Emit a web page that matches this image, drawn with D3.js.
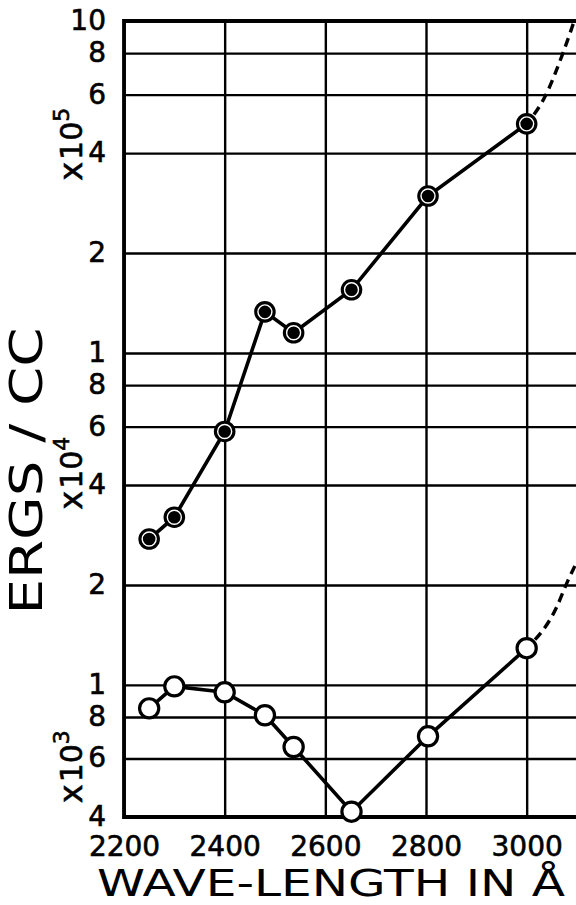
<!DOCTYPE html>
<html>
<head>
<meta charset="utf-8">
<script src="https://cdn.jsdelivr.net/npm/d3@7"></script>
<style>
  body { margin: 0; background: #fff; }
  svg { display: block; }
</style>
</head>
<body>
<svg id="chart"></svg>
<script>
/**
 * wave-lengths of the measured points (in angstrom)
 */
let waveLengths = [2250, 2300, 2400, 2480, 2537, 2652, 2804, 3000];

/**
 * upper curve (black dots) and lower curve (open dots), ergs / cc
 */
let filledValues = [2.75e4, 3.2e4, 5.8e4, 1.33e5, 1.15e5, 1.55e5, 2.97e5, 4.9e5];
let openValues = [8.5e3, 9.9e3, 9.5e3, 8.1e3, 6.5e3, 4.15e3, 7.0e3, 1.29e4];

/**
 * dashed extrapolation of each curve past 3000
 */
let filledDashX = [3000, 3036, 3072, 3100];
let filledDashY = [4.9e5, 5.9e5, 8.0e5, 1.06e6];
let openDashX = [3000, 3060, 3080, 3100];
let openDashY = [1.29e4, 1.72e4, 2.03e4, 2.35e4];

/**
 * ticks and their labels
 */
let xTicks = [2200, 2400, 2600, 2800, 3000];
let yTicks = [1e6, 8e5, 6e5, 4e5, 2e5, 1e5, 8e4, 6e4, 4e4, 2e4, 1e4, 8e3, 6e3, 4e3];
let yTickLabels = ["10", "8", "6", "4", "2", "1", "8", "6", "4", "2", "1", "8", "6", "4"];
let decadeExponents = ["5", "4", "3"];
let decadeAnchors = [3.3e5, 3.37e4, 4.4e3];

/**
 * margins and size
 */
let margin = { top: 21, right: -1, bottom: 88, left: 124 },
    W = 576,
    H = 905,
    width = W - margin.left - margin.right,
    height = H - margin.top - margin.bottom;

let font = "'DejaVu Sans', sans-serif";

let x = d3.scaleLinear().domain([2200, 3100]).range([0, width]),
    y = d3.scaleLog().domain([4e3, 1e6]).range([height, 0]);

let svg = d3.select("#chart")
    .attr("width", W)
    .attr("height", H)
    .style("background", "#fff");

let chart = svg.append("g")
    .attr("transform", "translate(" + margin.left + "," + margin.top + ")");

chart.append("clipPath").attr("id", "plot-clip")
    .append("rect").attr("x", 0).attr("y", 0).attr("width", width).attr("height", height);

// y grid + labels
let yAxis = d3.axisLeft(y)
    .tickValues(yTicks)
    .tickFormat(function (d, i) { return yTickLabels[i]; })
    .tickSize(-width)
    .tickPadding(18);
let gy = chart.append("g").call(yAxis);
gy.select(".domain").remove();
gy.attr("font-size", 28).attr("font-family", font);
gy.selectAll(".tick line").attr("stroke", "#000").attr("stroke-width", 2.4);
gy.selectAll(".tick text").attr("fill", "#000").attr("dy", "0.3em")
    .attr("stroke", "#000").attr("stroke-width", 0.6);

// x grid + labels
let xAxis = d3.axisBottom(x)
    .tickValues(xTicks)
    .tickFormat(d3.format("d"))
    .tickSize(-height)
    .tickPadding(19);
let gx = chart.append("g").attr("transform", "translate(0," + height + ")").call(xAxis);
gx.select(".domain").remove();
gx.attr("font-size", 28).attr("font-family", font);
gx.selectAll(".tick line").attr("stroke", "#000").attr("stroke-width", 2.4);
gx.selectAll(".tick text").attr("fill", "#000")
    .attr("stroke", "#000").attr("stroke-width", 0.6);

// frame: left, top, bottom
chart.append("path")
    .attr("d", "M" + width + ",0H0V" + height + "H" + width)
    .attr("fill", "none")
    .attr("stroke", "#000")
    .attr("stroke-width", 3.8);

// data lines
let line = d3.line()
    .x(function (d) { return x(d[0]); })
    .y(function (d) { return y(d[1]); });
let dash = d3.line()
    .x(function (d) { return x(d[0]); })
    .y(function (d) { return y(d[1]); })
    .curve(d3.curveMonotoneX);

let filled = d3.zip(waveLengths, filledValues),
    open = d3.zip(waveLengths, openValues);

[filled, open].forEach(function (pts) {
    chart.append("path")
        .attr("d", line(pts))
        .attr("fill", "none")
        .attr("stroke", "#000")
        .attr("stroke-width", 3.6);
});

[d3.zip(filledDashX, filledDashY), d3.zip(openDashX, openDashY)].forEach(function (pts) {
    chart.append("path")
        .attr("d", dash(pts))
        .attr("clip-path", "url(#plot-clip)")
        .attr("fill", "none")
        .attr("stroke", "#000")
        .attr("stroke-width", 3.4)
        .attr("stroke-dasharray", "9,6")
        .attr("stroke-dashoffset", -12);
});

// open dots
chart.selectAll(".open").data(open).enter().append("circle")
    .attr("class", "open")
    .attr("cx", function (d) { return x(d[0]); })
    .attr("cy", function (d) { return y(d[1]); })
    .attr("r", 9.6)
    .attr("fill", "#fff")
    .attr("stroke", "#000")
    .attr("stroke-width", 3.2);

// black dots with a thin white ring
let dots = chart.selectAll(".filled").data(filled).enter().append("g")
    .attr("class", "filled")
    .attr("transform", function (d) { return "translate(" + x(d[0]) + "," + y(d[1]) + ")"; });
dots.append("circle").attr("r", 10.8).attr("fill", "#000");
dots.append("circle").attr("r", 7).attr("fill", "#000").attr("stroke", "#fff").attr("stroke-width", 1.4);

// x10^n decade markers
decadeExponents.forEach(function (e, i) {
    let t = svg.append("text")
        .attr("transform", "translate(82," + (margin.top + y(decadeAnchors[i])) + ") rotate(-90)")
        .attr("font-family", font)
        .attr("font-size", 30)
        .attr("fill", "#000")
        .attr("stroke", "#000")
        .attr("stroke-width", 0.6);
    t.append("tspan").attr("font-size", 32).text("x");
    t.append("tspan").attr("dx", 2).text("10");
    t.append("tspan").attr("font-size", 22).attr("dy", -13).text(e);
});

// axis titles
svg.append("text")
    .attr("transform", "translate(42," + 471 + ") rotate(-90)")
    .attr("text-anchor", "middle")
    .attr("font-family", font)
    .attr("font-size", 44)
    .attr("textLength", 287)
    .attr("lengthAdjust", "spacingAndGlyphs")
    .attr("fill", "#000")
    .text("ERGS / CC");

svg.append("text")
    .attr("x", 331)
    .attr("y", 896)
    .attr("text-anchor", "middle")
    .attr("font-family", font)
    .attr("font-size", 38)
    .attr("textLength", 468)
    .attr("lengthAdjust", "spacingAndGlyphs")
    .attr("fill", "#000")
    .text("WAVE-LENGTH IN Å");
</script>
</body>
</html>
